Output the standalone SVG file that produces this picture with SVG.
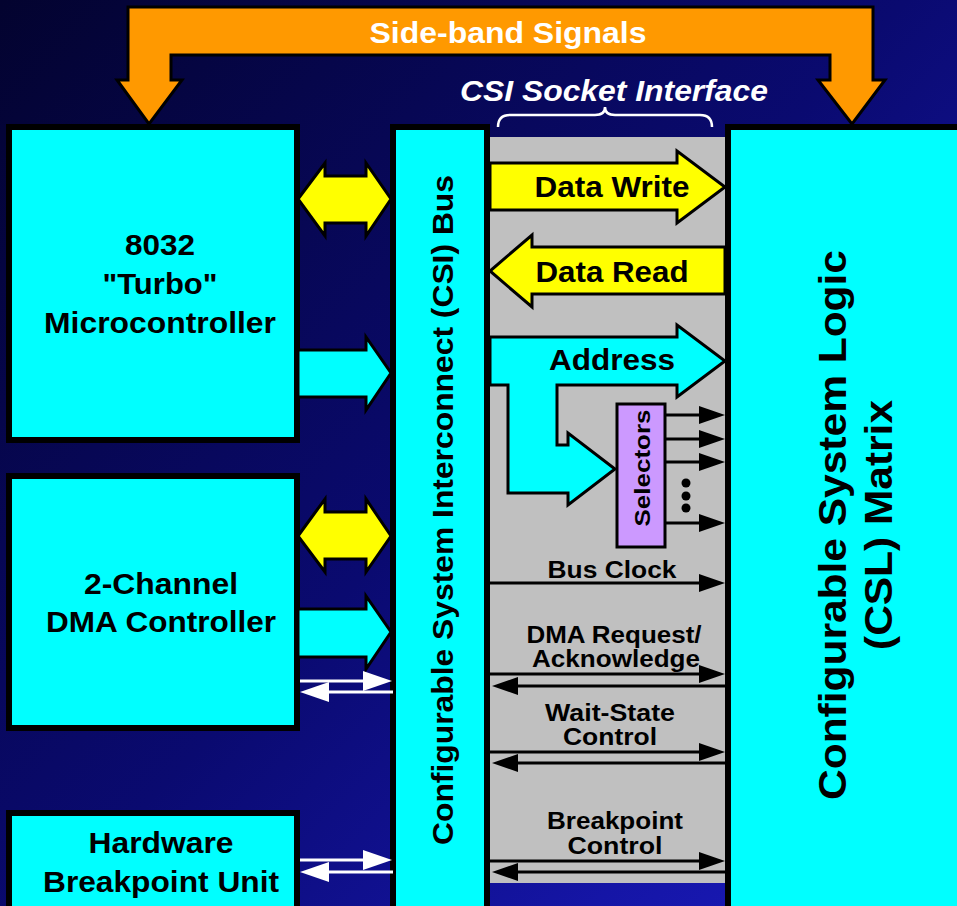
<svg xmlns="http://www.w3.org/2000/svg" width="957" height="906" viewBox="0 0 957 906">
<defs>
<linearGradient id="bg" x1="0" y1="0" x2="957" y2="906" gradientUnits="userSpaceOnUse">
<stop offset="0" stop-color="#03032f"/>
<stop offset="0.5" stop-color="#0a0a70"/>
<stop offset="0.8" stop-color="#1515a6"/>
<stop offset="1" stop-color="#1c1cc0"/>
</linearGradient>
<marker id="ahB" viewBox="0 0 26 18" refX="13" refY="9" markerWidth="26" markerHeight="18" markerUnits="userSpaceOnUse" orient="auto">
<path d="M0,0 L26,9 L0,18 Z" fill="#000"/>
</marker>
<marker id="ahW" viewBox="0 0 29 20" refX="15" refY="10" markerWidth="29" markerHeight="20" markerUnits="userSpaceOnUse" orient="auto">
<path d="M0,0 L29,10 L0,20 Z" fill="#fff"/>
</marker>
</defs>
<style>
text{font-family:"Liberation Sans",Arial,Helvetica,sans-serif;font-weight:bold;}
.blk{fill:#00ffff;stroke:#000;stroke-width:6;}
.t28{font-size:29px;fill:#000;text-anchor:middle;}
.t23{font-size:23px;fill:#000;text-anchor:middle;}
.fat{stroke:#000;stroke-width:3;stroke-linejoin:miter;}
.yel{fill:#ffff00;}
.cy{fill:#00ffff;}
.bl{stroke:#000;stroke-width:3;fill:none;marker-end:url(#ahB);}
.wl{stroke:#fff;stroke-width:3;fill:none;marker-end:url(#ahW);}
</style>
<rect x="0" y="0" width="957" height="906" fill="url(#bg)"/>

<g id="socket-interface">
<rect x="490" y="137" width="237" height="746" fill="#c0c0c0"/>
<path d="M498,127 Q498,115 510,115 H595 Q605,115 605,107 Q605,115 615,115 H700 Q712,115 712,127" fill="none" stroke="#fff" stroke-width="2.5"/>
<text x="614" y="101" font-size="29" font-style="italic" fill="#fff" text-anchor="middle" textLength="308" lengthAdjust="spacingAndGlyphs">CSI Socket Interface</text>
</g>

<g id="sideband">
<path d="M128,7 H873 V80 H885 L852,124 L818,80 H830 V55 H171 V80 H182 L149,124 L117,80 H128 Z" fill="#ff9900" class="fat"/>
<text x="508" y="43" font-size="30" fill="#fff" text-anchor="middle" textLength="277" lengthAdjust="spacingAndGlyphs">Side-band Signals</text>
</g>

<g id="microcontroller">
<rect class="blk" x="9" y="127" width="288" height="313"/>
<text class="t28" x="160" y="255" textLength="70" lengthAdjust="spacingAndGlyphs">8032</text>
<text class="t28" x="160" y="294" textLength="115" lengthAdjust="spacingAndGlyphs">"Turbo"</text>
<text class="t28" x="160" y="333" textLength="232" lengthAdjust="spacingAndGlyphs">Microcontroller</text>
</g>

<g id="dma-controller">
<rect class="blk" x="9" y="476" width="288" height="252"/>
<text class="t28" x="161" y="594" textLength="154" lengthAdjust="spacingAndGlyphs">2-Channel</text>
<text class="t28" x="161" y="632" textLength="230" lengthAdjust="spacingAndGlyphs">DMA Controller</text>
</g>

<g id="breakpoint-unit">
<rect class="blk" x="9" y="813" width="288" height="110"/>
<text class="t28" x="161" y="853" textLength="145" lengthAdjust="spacingAndGlyphs">Hardware</text>
<text class="t28" x="161" y="892" textLength="236" lengthAdjust="spacingAndGlyphs">Breakpoint Unit</text>
</g>

<g id="csi-bus">
<rect class="blk" x="393" y="127" width="94" height="800"/>
<text class="t28" transform="translate(453,510) rotate(-90)" textLength="670" lengthAdjust="spacingAndGlyphs">Configurable System Interconnect (CSI) Bus</text>
</g>

<g id="csl-matrix">
<rect class="blk" x="728" y="127" width="240" height="800"/>
<text font-size="39" fill="#000" text-anchor="middle" transform="translate(846,525) rotate(-90)" textLength="550" lengthAdjust="spacingAndGlyphs">Configurable System Logic</text>
<text font-size="39" fill="#000" text-anchor="middle" transform="translate(892,525) rotate(-90)" textLength="250" lengthAdjust="spacingAndGlyphs">(CSL) Matrix</text>
</g>

<g id="connectors">
<path class="fat yel" d="M298,199 L325,163 V176 H366 V163 L391,199 L366,236 V223 H325 V236 Z"/>
<path class="fat cy" d="M298,350 H366 V337 L391,373 L366,410 V397 H298 Z"/>
<path class="fat yel" d="M298,536 L325,499 V512 H366 V499 L391,536 L366,572 V559 H325 V572 Z"/>
<path class="fat cy" d="M298,609 H366 V596 L391,632 L366,669 V657 H298 Z"/>
<line class="wl" x1="300" y1="681" x2="378" y2="681"/>
<line class="wl" x1="393" y1="692" x2="314" y2="692"/>
<line class="wl" x1="300" y1="860" x2="378" y2="860"/>
<line class="wl" x1="393" y1="872" x2="314" y2="872"/>

<path class="fat yel" d="M490,163 H677 V151 L725,187 L677,223 V210 H490 Z"/>
<text class="t28" x="612" y="197" textLength="155" lengthAdjust="spacingAndGlyphs">Data Write</text>
<path class="fat yel" d="M725,247 H532 V235 L490,271 L532,307 V294 H725 Z"/>
<text class="t28" x="612" y="282" textLength="153" lengthAdjust="spacingAndGlyphs">Data Read</text>
<path class="fat cy" d="M490,337 H677 V325 L725,361 L677,397 V385 H557 V445 H568 V433 L615,469 L568,505 V493 H508 V385 H490 Z"/>
<text class="t28" x="612" y="370" textLength="126" lengthAdjust="spacingAndGlyphs">Address</text>

<line class="bl" x1="665" y1="415" x2="712" y2="415"/>
<line class="bl" x1="665" y1="439" x2="712" y2="439"/>
<line class="bl" x1="665" y1="462" x2="712" y2="462"/>
<line class="bl" x1="665" y1="523" x2="712" y2="523"/>
<circle cx="686" cy="483" r="4.5" fill="#000"/>
<circle cx="686" cy="496" r="4.5" fill="#000"/>
<circle cx="686" cy="508" r="4.5" fill="#000"/>

<line class="bl" x1="490" y1="583" x2="712" y2="583"/>
<text class="t23" x="612" y="578" textLength="129" lengthAdjust="spacingAndGlyphs">Bus Clock</text>

<text class="t23" x="614" y="643" textLength="175" lengthAdjust="spacingAndGlyphs">DMA Request/</text>
<text class="t23" x="616" y="667" textLength="168" lengthAdjust="spacingAndGlyphs">Acknowledge</text>
<line class="bl" x1="490" y1="674" x2="712" y2="674"/>
<line class="bl" x1="727" y1="686" x2="505" y2="686"/>

<text class="t23" x="610" y="721" textLength="130" lengthAdjust="spacingAndGlyphs">Wait-State</text>
<text class="t23" x="610" y="745" textLength="94" lengthAdjust="spacingAndGlyphs">Control</text>
<line class="bl" x1="490" y1="752" x2="712" y2="752"/>
<line class="bl" x1="727" y1="763" x2="505" y2="763"/>

<text class="t23" x="615" y="829" textLength="136" lengthAdjust="spacingAndGlyphs">Breakpoint</text>
<text class="t23" x="615" y="854" textLength="95" lengthAdjust="spacingAndGlyphs">Control</text>
<line class="bl" x1="490" y1="861" x2="712" y2="861"/>
<line class="bl" x1="727" y1="872" x2="505" y2="872"/>
</g>

<g id="selectors">
<rect x="617" y="404" width="48" height="143" fill="#cc99ff" stroke="#000" stroke-width="3"/>
<text font-size="22" fill="#000" text-anchor="middle" transform="translate(650,468) rotate(-90)" textLength="117" lengthAdjust="spacingAndGlyphs">Selectors</text>
</g>
</svg>
